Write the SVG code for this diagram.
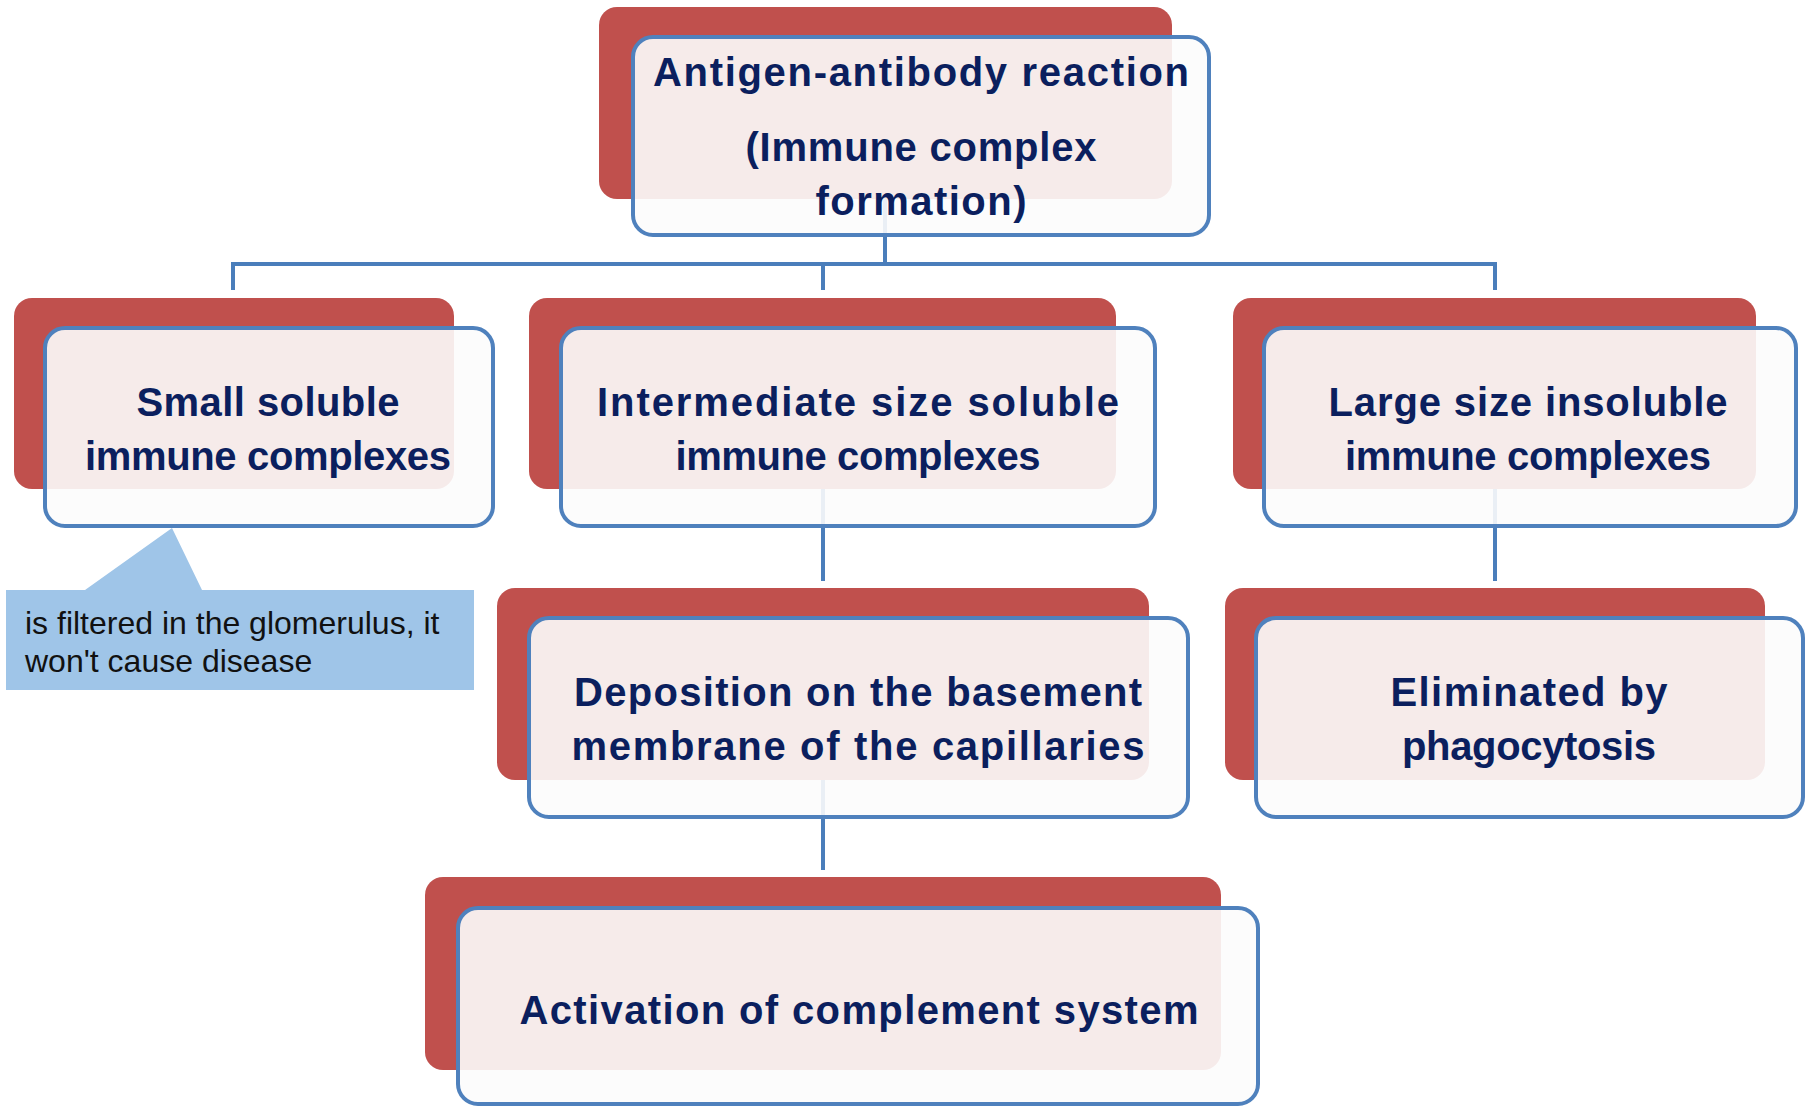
<svg xmlns="http://www.w3.org/2000/svg" width="1810" height="1106" viewBox="0 0 1810 1106">
<style>
.back{fill:#C0504D;}
.front{fill:#FCFCFC;fill-opacity:0.9;stroke:#4F81BD;stroke-width:4;}
.lbl{font-family:"Liberation Sans",Arial,sans-serif;font-weight:bold;font-size:40px;fill:#0B1F5E;text-anchor:middle;}
.conn{stroke:#4A7EBB;stroke-width:4;fill:none;}
.note{font-family:"Liberation Sans",Arial,sans-serif;font-size:32px;fill:#111;}
</style>
<rect width="1810" height="1106" fill="#FFFFFF"/>
<g id="connectors">
<path class="conn" d="M885 199 V264 M233 264 H1495 M233 262 V290 M823 262 V290 M1495 262 V290"/>
<path class="conn" d="M823 489 V581"/>
<path class="conn" d="M1495 489 V581"/>
<path class="conn" d="M823 780 V870"/>
</g>
<g id="node-top">
<rect class="back" x="599" y="7" width="573" height="192" rx="18"/>
<rect class="front" x="633" y="37" width="576" height="198" rx="20"/>
<text class="lbl" x="921" y="86" textLength="536" lengthAdjust="spacing">Antigen-antibody reaction</text>
<text class="lbl" x="921" y="161" textLength="351" lengthAdjust="spacing">(Immune complex</text>
<text class="lbl" x="921" y="215" textLength="211" lengthAdjust="spacing">formation)</text>
</g>
<g id="node-small">
<rect class="back" x="14" y="298" width="440" height="191" rx="18"/>
<rect class="front" x="45" y="328" width="448" height="198" rx="20"/>
<text class="lbl" x="268" y="416" textLength="263" lengthAdjust="spacing">Small soluble</text>
<text class="lbl" x="268" y="470" textLength="366" lengthAdjust="spacing">immune complexes</text>
</g>
<g id="node-intermediate">
<rect class="back" x="529" y="298" width="587" height="191" rx="18"/>
<rect class="front" x="561" y="328" width="594" height="198" rx="20"/>
<text class="lbl" x="858" y="416" textLength="522" lengthAdjust="spacing">Intermediate size soluble</text>
<text class="lbl" x="858" y="470" textLength="365" lengthAdjust="spacing">immune complexes</text>
</g>
<g id="node-large">
<rect class="back" x="1233" y="298" width="523" height="191" rx="18"/>
<rect class="front" x="1264" y="328" width="532" height="198" rx="20"/>
<text class="lbl" x="1528" y="416" textLength="399" lengthAdjust="spacing">Large size insoluble</text>
<text class="lbl" x="1528" y="470" textLength="366" lengthAdjust="spacing">immune complexes</text>
</g>
<g id="node-deposition">
<rect class="back" x="497" y="588" width="652" height="192" rx="18"/>
<rect class="front" x="529" y="618" width="659" height="199" rx="20"/>
<text class="lbl" x="858" y="706" textLength="568" lengthAdjust="spacing">Deposition on the basement</text>
<text class="lbl" x="858" y="760" textLength="573" lengthAdjust="spacing">membrane of the capillaries</text>
</g>
<g id="node-eliminated">
<rect class="back" x="1225" y="588" width="540" height="192" rx="18"/>
<rect class="front" x="1256" y="618" width="547" height="199" rx="20"/>
<text class="lbl" x="1529" y="706" textLength="277" lengthAdjust="spacing">Eliminated by</text>
<text class="lbl" x="1529" y="760" textLength="254" lengthAdjust="spacing">phagocytosis</text>
</g>
<g id="node-activation">
<rect class="back" x="425" y="877" width="796" height="193" rx="18"/>
<rect class="front" x="458" y="908" width="800" height="196" rx="20"/>
<text class="lbl" x="859" y="1024" textLength="679" lengthAdjust="spacing">Activation of complement system</text>
</g>
<g id="callout">
<path d="M6 590 H85 L172 528 L202 590 H474 V690 H6 Z" fill="#9FC5E8"/>
<text class="note" x="25" y="634">is filtered in the glomerulus, it</text>
<text class="note" x="25" y="672">won't cause disease</text>
</g>
</svg>
